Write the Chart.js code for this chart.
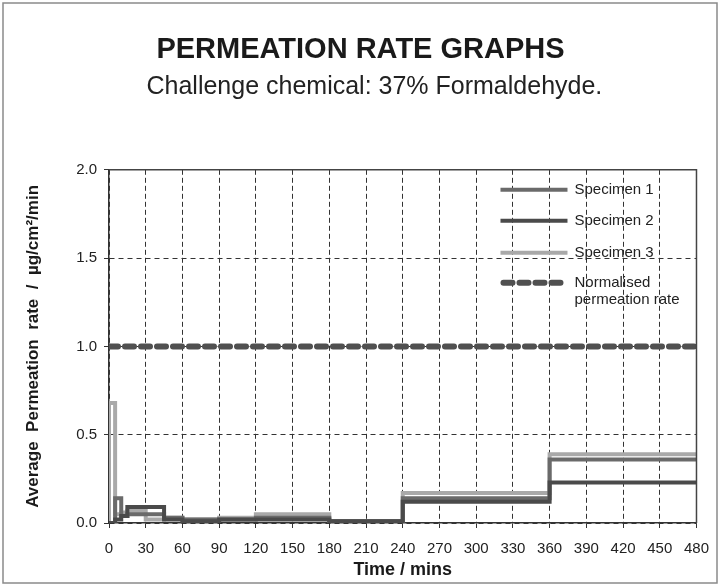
<!DOCTYPE html>
<html>
<head>
<meta charset="utf-8">
<script src="https://cdn.jsdelivr.net/npm/chart.js@4"></script>
<style>
  html, body { margin: 0; padding: 0; background: #ffffff; }
  #wrap { width: 721px; height: 588px; }
</style>
</head>
<body>
<div id="wrap"><canvas id="permeationChart" width="721" height="588"></canvas></div>
<script>
// Sample interval start times (mins); each value holds until the next time
const sampleTimes = [0, 5, 10, 15, 30, 45, 60, 90, 120, 180, 240, 360, 480];

// Average permeation rate per interval (µg/cm²/min)
const specimen1 = [0.00, 0.14, 0.04, 0.05, 0.05, 0.03, 0.02, 0.02, 0.03, 0.01, 0.14, 0.36];
const specimen2 = [0.00, 0.02, 0.04, 0.09, 0.09, 0.02, 0.01, 0.02, 0.02, 0.01, 0.12, 0.23];
const specimen3 = [0.68, 0.05, 0.06, 0.07, 0.02, 0.03, 0.02, 0.03, 0.05, 0.01, 0.17, 0.39];

const normalisedTimes = [0, 480];
const normalisedRate = [1.0, 1.0];

const xTicks = [0, 30, 60, 90, 120, 150, 180, 210, 240, 270, 300, 330, 360, 390, 420, 450, 480];
const yTicks = [0.0, 0.5, 1.0, 1.5, 2.0];

const FONT = '"Liberation Sans", Arial, sans-serif';

// Build stepped points: start at the baseline, then hold each value to the next sample time
function stepPoints(values) {
  const pts = [{ x: sampleTimes[0], y: 0 }];
  values.forEach((v, i) => pts.push({ x: sampleTimes[i], y: v }));
  pts.push({ x: sampleTimes[sampleTimes.length - 1], y: values[values.length - 1] });
  return pts;
}

const legendItems = [
  { text: ['Specimen 1'], color: '#6a6a6a', width: 4, dash: [] },
  { text: ['Specimen 2'], color: '#4a4a4a', width: 4, dash: [] },
  { text: ['Specimen 3'], color: '#a9a9a9', width: 4, dash: [] },
  { text: ['Normalised', 'permeation rate'], color: '#505050', width: 6, dash: [9, 7] }
];

// Frame round the whole picture, box round the plot, legend inside the plot
const framePlugin = {
  id: 'frame',
  afterDraw(chart) {
    const { ctx, chartArea } = chart;
    ctx.save();
    ctx.strokeStyle = '#8a8a8a';
    ctx.lineWidth = 1.5;
    ctx.strokeRect(3, 3, 714, 580);

    ctx.strokeStyle = '#444';
    ctx.lineWidth = 1.5;
    ctx.beginPath();
    ctx.moveTo(chartArea.left, chartArea.top);
    ctx.lineTo(chartArea.right, chartArea.top);
    ctx.lineTo(chartArea.right, chartArea.bottom);
    ctx.stroke();

    const rows = [20, 51, 83, 113];
    const x0 = chartArea.right - 196;
    const x1 = chartArea.right - 129;
    ctx.font = '15px ' + FONT;
    ctx.textBaseline = 'middle';
    ctx.textAlign = 'left';
    legendItems.forEach((item, i) => {
      const y = chartArea.top + rows[i];
      ctx.strokeStyle = item.color;
      ctx.lineWidth = item.width;
      ctx.lineCap = item.dash.length ? 'round' : 'butt';
      ctx.setLineDash(item.dash);
      ctx.beginPath();
      ctx.moveTo(x0 + (item.dash.length ? 3 : 0), y);
      ctx.lineTo(x1, y);
      ctx.stroke();
      ctx.setLineDash([]);
      ctx.fillStyle = '#222';
      item.text.forEach((t, j) => ctx.fillText(t, x1 + 7, y + j * 17));
    });
    ctx.restore();
  }
};

new Chart(document.getElementById('permeationChart'), {
  type: 'line',
  data: {
    datasets: [
      {
        label: 'Normalised permeation rate',
        data: normalisedTimes.map((t, i) => ({ x: t, y: normalisedRate[i] })),
        borderColor: '#505050',
        borderWidth: 6,
        borderDash: [9, 7],
        borderCapStyle: 'round',
        pointRadius: 0
      },
      {
        label: 'Specimen 2',
        data: stepPoints(specimen2),
        borderColor: '#4a4a4a',
        borderWidth: 4,
        stepped: true,
        pointRadius: 0
      },
      {
        label: 'Specimen 1',
        data: stepPoints(specimen1),
        borderColor: '#6a6a6a',
        borderWidth: 4,
        stepped: true,
        pointRadius: 0
      },
      {
        label: 'Specimen 3',
        data: stepPoints(specimen3),
        borderColor: '#a9a9a9',
        borderWidth: 4,
        stepped: true,
        pointRadius: 0
      }
    ]
  },
  options: {
    responsive: false,
    animation: false,
    events: [],
    layout: { padding: 0 },
    scales: {
      x: {
        type: 'linear',
        min: 0,
        max: 480,
        afterFit: scale => { scale.height = 65; },
        afterBuildTicks: scale => { scale.ticks = xTicks.map(v => ({ value: v })); },
        ticks: {
          color: '#222',
          font: { family: FONT, size: 15 },
          padding: 12,
          maxRotation: 0,
          autoSkip: false
        },
        grid: { color: '#333', lineWidth: 1, tickLength: 5 },
        border: { color: '#333', width: 1.5, dash: [5, 3] },
        title: {
          display: true,
          text: 'Time / mins',
          color: '#1a1a1a',
          font: { family: FONT, size: 18, weight: 'bold' },
          padding: { top: 0, bottom: 7 }
        }
      },
      y: {
        min: 0,
        max: 2,
        afterFit: scale => { scale.width = 109; },
        afterBuildTicks: scale => { scale.ticks = yTicks.map(v => ({ value: v })); },
        ticks: {
          color: '#222',
          font: { family: FONT, size: 15 },
          padding: 7,
          callback: value => value.toFixed(1)
        },
        grid: { color: '#333', lineWidth: 1, tickLength: 5 },
        border: { color: '#333', width: 1.5, dash: [5, 4] },
        title: {
          display: true,
          text: 'Average  Permeation  rate  /  µg/cm²/min',
          color: '#1a1a1a',
          font: { family: FONT, size: 17, weight: 'bold' },
          padding: { top: 23, bottom: 0 }
        }
      },
      // empty right-hand strip so the plot stops short of the frame
      yRight: {
        position: 'right',
        min: 0,
        max: 2,
        afterFit: scale => { scale.width = 24; },
        ticks: { display: false },
        grid: { display: false },
        border: { display: false }
      }
    },
    plugins: {
      legend: { display: false },
      tooltip: { enabled: false },
      title: {
        display: true,
        text: 'PERMEATION RATE GRAPHS',
        color: '#1a1a1a',
        font: { family: FONT, size: 29, weight: 'bold' },
        padding: { top: 33, bottom: 2 }
      },
      subtitle: {
        display: true,
        text: '    Challenge chemical: 37% Formaldehyde.',
        color: '#222',
        font: { family: FONT, size: 25, weight: 'normal' },
        padding: { top: 2, bottom: 68 }
      }
    }
  },
  plugins: [framePlugin]
});
</script>
</body>
</html>
